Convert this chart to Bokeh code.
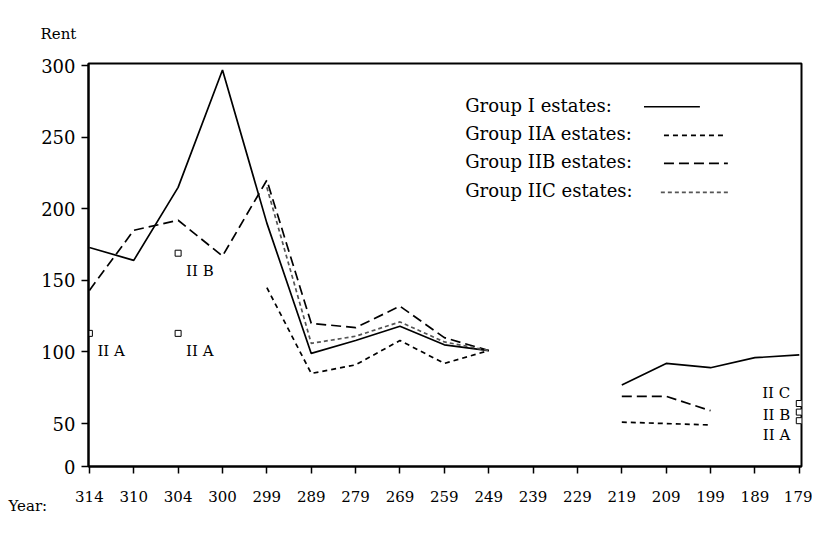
import math
from bokeh.plotting import figure
from bokeh.models import FixedTicker, Title
from bokeh.core.properties import value
from bokeh.embed import file_html
from bokeh.resources import INLINE

nan = float("nan")

# ---------------- data ----------------
years = ["314", "310", "304", "300", "299", "289", "279", "269", "259",
         "249", "239", "229", "219", "209", "199", "189", "179"]
group_i   = [173, 164, 215, 297, 190,  99, 108, 118, 105, 101, nan, nan,  77,  92,  89,  96,  98]
group_iia = [nan, nan, nan, nan, 145,  85,  91, 108,  92, 101, nan, nan,  51,  50,  49, nan, nan]
group_iib = [143, 185, 192, 167, 220, 120, 117, 132, 110, 101, nan, nan,  69,  69,  59, nan, nan]
group_iic = [nan, nan, nan, nan, 215, 106, 111, 121, 107, 101, nan, nan, nan, nan, nan, nan, nan]

# single-estate markers
marker_year = ["314", "304", "304", "179", "179", "179"]
marker_rent = [113, 169, 113, 64, 58, 52]
marker_text = ["II A", "II B", "II A", "", "", ""]
right_note_text = ["II C", "II B", "II A"]
right_note_rent = [71, 56, 42]

legend_labels = ["Group I estates:", "Group IIA estates:",
                 "Group IIB estates:", "Group IIC estates:"]

# ---------------- styling ----------------
FONT = "DejaVu Serif"
series = [
    (group_i,   "black",   None),
    (group_iia, "black",   "5 4"),
    (group_iib, "black",   "10 5"),
    (group_iic, "#555555", "4 3"),
]

xi = list(range(len(years)))
idx = {y: i for i, y in enumerate(years)}

p = figure(width=812, height=528, x_range=(-0.02, 16.05), y_range=(20, 301.5),
           output_backend="svg", toolbar_location=None,
           min_border_left=88, min_border_right=11,
           min_border_top=63, min_border_bottom=62)
p.xgrid.visible = False
p.ygrid.visible = False
p.outline_line_color = "black"
p.outline_line_width = 2
p.background_fill_color = "white"
p.border_fill_color = "white"

for vals, color, dash in series:
    kw = dict(line_color=color, line_width=1.7)
    if dash:
        kw["line_dash"] = dash
    p.line(xi, vals, **kw)

# markers and their labels
mx = [idx[y] for y in marker_year]
p.scatter(mx, marker_rent, marker="square", size=6, fill_color="white",
          line_color="black", line_width=1)
p.text(mx[:3], marker_rent[:3], text=marker_text[:3], x_offset=8, y_offset=9,
       text_baseline="top", text_align="left", text_font=value(FONT),
       text_font_size="15px", text_color="black")
p.text([idx["179"]] * 3, right_note_rent, text=right_note_text, x_offset=-9,
       text_baseline="middle", text_align="right", text_font=value(FONT),
       text_font_size="15px", text_color="black")

# legend (text followed by line sample, as in the original)
leg_x = 8.47
leg_y = [272.5, 252.5, 233.0, 212.7]
line_x0 = [12.50, 12.95, 12.95, 12.88]
line_x1 = [13.76, 14.28, 14.39, 14.44]
p.text([leg_x] * 4, leg_y, text=legend_labels, text_baseline="middle",
       text_align="left", text_font=value(FONT), text_font_size="18px",
       text_color="black")
for k, (vals, color, dash) in enumerate(series):
    kw = dict(line_color=color, line_width=1.7)
    if dash:
        kw["line_dash"] = dash
    p.segment(x0=[line_x0[k]], y0=[leg_y[k] - 1.2], x1=[line_x1[k]],
              y1=[leg_y[k] - 1.2], **kw)

# axes
p.xaxis.ticker = FixedTicker(ticks=xi)
p.xaxis.major_label_overrides = {i: y for i, y in enumerate(years)}
p.yaxis.ticker = FixedTicker(ticks=[20, 50, 100, 150, 200, 250, 300])
p.yaxis.major_label_overrides = {20: "0"}
for ax in (p.xaxis[0], p.yaxis[0]):
    ax.axis_line_color = "black"
    ax.axis_line_width = 2
    ax.major_tick_line_color = "black"
    ax.major_tick_line_width = 1.5
    ax.major_tick_in = 0
    ax.major_tick_out = 7
    ax.minor_tick_line_color = None
    ax.major_label_text_font = FONT
    ax.major_label_text_color = "black"
p.xaxis.major_label_text_font_size = "15px"
p.xaxis.major_label_standoff = 17
p.yaxis.major_label_text_font_size = "18px"
p.yaxis.major_label_standoff = 6

# axis captions as titles
p.title.text = "Rent"
p.title.align = "left"
p.title.offset = -48
p.title.standoff = 42
p.title.text_font = FONT
p.title.text_font_size = "15px"
p.title.text_font_style = "normal"
p.title.text_color = "black"

p.add_layout(Title(text="Year:", align="left", offset=-80, standoff=-20,
                   text_font=FONT, text_font_size="15px",
                   text_font_style="normal", text_color="black"), "below")

open("out.html", "w").write(file_html(p, INLINE))
